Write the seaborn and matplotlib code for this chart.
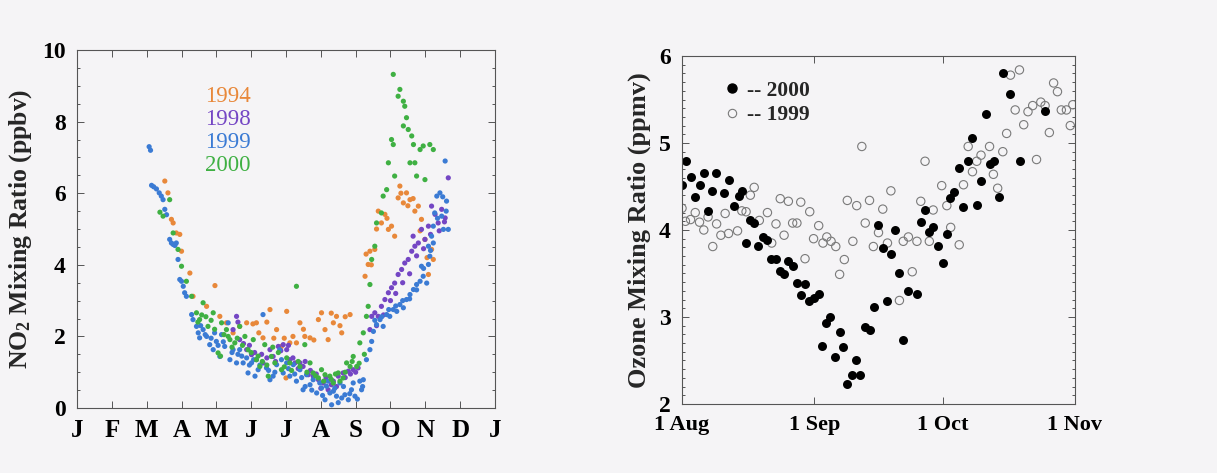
import numpy as np
import pandas as pd
import matplotlib
matplotlib.use("Agg")
import matplotlib.pyplot as plt
from matplotlib.lines import Line2D
from matplotlib.ticker import MultipleLocator
import seaborn as sns

# NO2 panel: x in months since 1 Jan, value in ppbv
no2_1994_month = [2.52, 2.61, 2.71, 2.76, 2.85, 2.95, 3.0, 3.24, 3.33, 3.72, 3.96, 4.10, 4.29, 4.48,
                  4.67, 4.87, 5.15, 5.34, 5.54, 5.73, 5.87, 6.0, 6.02, 6.11, 6.30, 6.40, 6.54, 6.69,
                  6.93, 7.02, 7.12, 7.21, 7.36, 7.45, 7.60, 7.84, 8.27, 8.36, 8.41, 8.55, 8.65, 8.74,
                  8.84, 8.94, 9.03, 9.12, 9.22, 9.27, 9.37, 9.46, 9.56, 9.70, 9.80, 9.89, 9.99, 10.09,
                  10.18, 10.23,
                  5.05, 5.22, 5.45, 5.65, 5.95, 6.20, 6.50, 6.80, 7.30, 7.55, 7.70, 8.30, 8.45, 8.60,
                  8.90, 9.30, 9.50, 9.65, 9.85, 10.05]
no2_1994_ppbv = [6.34, 6.01, 5.27, 5.17, 4.89, 4.85, 4.38, 3.77, 3.12, 2.84, 3.42, 2.56, 2.38, 2.10,
                 2.28, 2.38, 2.38, 1.96, 2.75, 2.19, 1.72, 0.84, 2.70, 1.82, 1.82, 2.38, 2.00, 1.96,
                 2.47, 2.66, 2.19, 1.91, 2.38, 2.56, 2.10, 2.61, 3.68, 4.01, 4.38, 4.43, 5.50, 5.17,
                 5.41, 4.99, 5.08, 4.80, 5.87, 6.20, 5.73, 6.01, 5.82, 5.50, 5.64, 5.27, 4.71, 3.73,
                 4.43, 4.15,
                 2.35, 2.10, 2.40, 1.95, 1.95, 2.00, 2.20, 1.90, 2.65, 2.30, 2.55, 4.30, 4.00, 5.00,
                 5.30, 6.00, 5.65, 5.85, 4.95, 4.20]

no2_1998_month = [4.48, 4.58, 4.67, 4.87, 5.01, 5.15, 5.34, 5.54, 5.63, 5.78, 5.92, 6.02, 6.11, 6.26,
                  6.40, 6.49, 6.64, 6.78, 6.93, 7.07, 7.21, 7.36, 7.50, 7.64, 7.79, 7.93, 8.07, 8.41,
                  8.46, 8.55, 8.65, 8.74, 8.84, 8.94, 9.03, 9.12, 9.22, 9.32, 9.41, 9.51, 9.61, 9.65,
                  9.70, 9.80, 9.89, 9.99, 10.09, 10.18, 10.28, 10.37, 10.47, 10.57, 10.66,
                  4.62, 4.78, 4.95, 5.10, 5.30, 5.45, 5.70, 5.85, 6.07, 6.20, 6.35, 6.55, 6.70, 6.87,
                  7.00, 7.15, 7.30, 7.45, 7.70, 7.85, 8.00, 8.60, 8.80, 9.00, 9.15, 9.35, 9.55, 9.75,
                  9.95, 10.15, 10.40, 10.55]
no2_1998_ppbv = [2.19, 2.56, 1.91, 1.63, 1.49, 1.35, 1.26, 1.63, 1.44, 1.72, 1.77, 1.63, 1.35, 1.26,
                 1.26, 1.16, 0.93, 0.89, 0.79, 0.70, 0.51, 0.75, 0.89, 0.98, 1.03, 1.07, 1.12, 2.19,
                 2.56, 2.66, 2.56, 2.84, 3.03, 3.22, 3.36, 3.49, 3.73, 3.87, 4.05, 4.15, 4.38, 4.80,
                 4.52, 4.61, 4.99, 4.71, 5.08, 5.64, 5.41, 5.17, 5.55, 5.31, 6.43,
                 2.40, 1.80, 1.75, 1.55, 1.50, 1.40, 1.30, 1.60, 1.75, 1.40, 1.10, 1.30, 1.05, 0.95,
                 0.55, 0.85, 0.65, 0.60, 0.85, 0.95, 1.00, 2.30, 2.60, 3.00, 3.20, 3.50, 3.75, 4.25,
                 4.45, 4.85, 4.95, 5.20]

no2_1999_month = [2.07, 2.11, 2.14, 2.20, 2.28, 2.36, 2.42, 2.47, 2.52, 2.57, 2.66, 2.71, 2.76, 2.81,
                  2.85, 2.90, 2.95, 3.00, 3.05, 3.09, 3.14, 3.29, 3.33, 3.43, 3.48, 3.52, 3.62, 3.72,
                  3.81, 3.91, 4.00, 4.10, 4.15, 4.24, 4.34, 4.39, 4.48, 4.58, 4.67, 4.77, 4.87, 4.91,
                  5.01, 5.11, 5.20, 5.34, 5.44, 5.54, 5.63, 5.73, 5.82, 5.92, 6.02, 6.11, 6.21, 6.30,
                  6.40, 6.49, 6.59, 6.69, 6.78, 6.88, 6.97, 7.02, 7.12, 7.16, 7.26, 7.31, 7.36, 7.45,
                  7.55, 7.60, 7.69, 7.79, 7.88, 7.98, 8.12, 8.17, 8.22, 8.31, 8.41, 8.46, 8.51, 8.60,
                  8.70, 8.79, 8.89, 8.98, 9.08, 9.18, 9.27, 9.37, 9.46, 9.56, 9.66, 9.75, 9.85, 9.89,
                  9.94, 10.04, 10.09, 10.09, 10.13, 10.18, 10.23, 10.23, 10.27, 10.33, 10.42, 10.47,
                  10.52, 10.57, 10.61, 10.66,
                  3.55, 3.68, 3.85, 3.95, 4.05, 4.20, 4.45, 4.62, 4.73, 4.95, 5.07, 5.25, 5.50, 5.68,
                  5.87, 6.07, 6.25, 6.45, 6.55, 6.74, 6.83, 7.05, 7.21, 7.40, 7.50, 7.65, 7.83, 7.93,
                  8.05, 8.20, 8.55, 8.75, 8.95, 9.15, 9.35, 9.55, 9.75, 9.95, 10.15, 10.35, 10.50,
                  10.60]
no2_1999_ppbv = [7.30, 7.20, 6.22, 6.18, 6.12, 6.01, 5.92, 5.82, 5.55, 5.40, 4.71, 4.61, 4.57, 4.54,
                 4.61, 4.15, 3.59, 3.54, 3.40, 3.22, 3.12, 2.61, 2.47, 2.28, 2.10, 1.96, 2.19, 2.00,
                 1.77, 1.63, 1.86, 1.44, 2.05, 1.72, 2.38, 1.35, 1.63, 1.26, 1.63, 1.26, 1.40, 0.98,
                 1.26, 0.89, 1.07, 2.61, 1.12, 0.79, 0.89, 1.21, 1.63, 0.98, 1.26, 0.89, 1.21, 0.75,
                 1.07, 0.51, 0.93, 0.65, 0.79, 0.42, 0.70, 0.56, 0.23, 0.61, 0.42, 0.09, 0.47, 0.33,
                 0.70, 0.28, 0.37, 0.23, 0.51, 0.33, 0.75, 0.51, 0.79, 1.35, 1.63, 1.86, 2.14, 2.33,
                 2.47, 2.28, 2.61, 2.56, 2.75, 2.70, 2.89, 2.80, 3.03, 3.17, 3.31, 3.45, 3.54, 3.96,
                 3.68, 3.49, 4.01, 4.52, 4.24, 4.80, 5.08, 4.61, 5.45, 5.92, 6.01, 5.36,
                 4.99, 6.90, 5.78, 4.99,
                 2.30, 2.05, 1.95, 2.10, 1.75, 1.85, 1.55, 1.50, 1.45, 1.20, 1.35, 1.20, 1.05, 1.00,
                 1.35, 1.10, 0.95, 0.85, 0.60, 0.50, 0.90, 0.35, 0.75, 0.55, 0.15, 0.60, 0.40, 0.70,
                 0.25, 0.60, 2.45, 2.55, 2.75, 2.85, 3.00, 3.05, 3.30, 3.90, 4.40, 5.30, 5.90,
                 5.50]

no2_2000_month = [2.38, 2.47, 2.66, 2.76, 2.90, 3.00, 3.14, 3.29, 3.43, 3.52, 3.62, 3.76, 3.91, 4.05,
                  4.15, 4.29, 4.39, 4.53, 4.67, 4.82, 4.91, 5.06, 5.15, 5.25, 5.39, 5.49, 5.58, 5.68,
                  5.87, 6.02, 6.11, 6.30, 6.40, 6.54, 6.69, 6.78, 6.93, 7.02, 7.12, 7.26, 7.36, 7.50,
                  7.64, 7.74, 7.84, 7.93, 8.03, 8.12, 8.22, 8.31, 8.36, 8.41, 8.46, 8.55, 8.60, 8.74,
                  8.79, 8.89, 8.94, 9.03, 9.08, 9.08, 9.12, 9.22, 9.27, 9.37, 9.37, 9.41, 9.46, 9.51,
                  9.56, 9.61, 9.66, 9.70, 9.75, 9.85, 9.94, 9.99, 10.13, 10.23,
                  3.47, 3.58, 3.70, 3.85, 3.95, 4.12, 4.22, 4.34, 4.45, 4.60, 4.75, 5.00, 5.20, 5.32,
                  5.45, 5.62, 5.78, 5.95, 6.16, 6.35, 6.60, 6.85, 7.08, 7.30, 7.42, 7.55, 7.70, 7.90,
                  8.10, 8.25]
no2_2000_ppbv = [5.47, 5.36, 5.82, 4.89, 4.43, 3.96, 3.54, 3.12, 2.66, 2.47, 2.94, 2.28, 2.66, 1.54,
                 2.38, 2.19, 1.91, 1.82, 2.28, 2.00, 1.63, 1.91, 1.35, 1.16, 1.77, 0.89, 1.44, 1.26,
                 1.07, 1.40, 1.26, 3.40, 1.16, 1.77, 1.26, 0.98, 0.84, 1.07, 0.93, 0.89, 0.70, 0.98,
                 0.84, 1.26, 1.16, 1.44, 1.16, 1.82, 2.10, 2.56, 2.84, 3.45, 4.15, 4.52, 5.17, 5.45,
                 5.92, 6.10, 6.85, 7.50, 7.36, 9.32, 6.48, 8.71, 8.90, 8.57, 7.88, 8.43, 8.11, 7.78,
                 6.85, 7.60, 7.36, 6.85, 6.48, 7.22, 7.32, 6.38, 7.36, 7.22,
                 2.40, 2.60, 2.55, 2.45, 2.20, 1.45, 2.05, 2.00, 1.70, 1.95, 1.75, 1.55, 1.45, 1.30,
                 1.20, 1.70, 1.55, 1.15, 1.05, 1.30, 1.00, 0.90, 0.75, 0.80, 0.95, 0.75, 1.00, 1.30,
                 1.25, 1.50]

years = ["1994", "1998", "1999", "2000"]
year_colors = ["#e8883a", "#7446c4", "#3b7bd4", "#3fb043"]
month_labels = ["J", "F", "M", "A", "M", "J", "J", "A", "S", "O", "N", "D", "J"]

# Ozone panel: x in days since 1 Aug, value in ppmv
o3_2000_day = [0.0, 1.0, 2.1, 3.1, 4.1, 5.1, 6.0, 7.0, 8.0, 9.9, 11.1, 12.1, 13.3, 14.0, 15.0, 15.9,
               16.9, 17.9, 18.9, 19.9, 20.8, 22.0, 23.0, 23.9, 24.9, 26.0, 26.9, 27.8, 28.8, 29.8,
               30.8, 32.0, 32.7, 33.8, 34.7, 35.9, 36.9, 37.8, 38.7, 39.8, 40.8, 41.7, 42.9, 43.9,
               45.0, 46.0, 47.0, 47.9, 48.9, 49.9, 50.9, 51.8, 53.0, 55.0, 55.9, 56.9, 57.9, 58.8,
               59.9, 61.0, 62.0, 62.7, 63.7, 64.9, 65.9, 67.0, 68.0, 69.0, 70.0, 71.1, 72.0, 73.1,
               74.1, 75.1, 76.9, 79.1, 85.0]
o3_2000_ppmv = [4.52, 4.79, 4.61, 4.38, 4.52, 4.66, 4.22, 4.45, 4.66, 4.42, 4.58, 4.28, 4.39, 4.45,
                3.85, 4.11, 4.08, 3.82, 3.92, 3.89, 3.67, 3.67, 3.53, 3.49, 3.64, 3.59, 3.39, 3.25,
                3.38, 3.18, 3.22, 3.26, 2.67, 2.93, 3.00, 2.54, 2.83, 2.66, 2.23, 2.33, 2.50, 2.33,
                2.88, 2.85, 3.11, 4.06, 3.79, 3.18, 3.72, 4.00, 3.50, 2.74, 3.30, 3.27, 4.09, 4.23,
                3.98, 4.03, 3.82, 3.62, 3.95, 4.37, 4.44, 4.71, 4.27, 4.79, 5.06, 4.29, 4.56, 5.33,
                4.76, 4.79, 4.38, 5.80, 5.56, 4.79, 5.37]

o3_1999_day = [0.0, 0.8, 2.0, 3.1, 4.1, 5.1, 6.1, 7.2, 8.1, 9.1, 10.1, 10.9, 13.0, 14.0, 15.0, 16.0,
               16.9, 18.1, 20.0, 21.0, 22.0, 23.0, 23.9, 24.9, 25.9, 26.9, 27.8, 28.8, 29.9, 30.8,
               32.0, 33.0, 33.9, 34.9, 36.0, 36.9, 38.0, 38.7, 40.0, 40.9, 42.1, 42.9, 43.9, 44.8,
               46.0, 47.0, 48.1, 48.9, 50.9, 51.8, 53.0, 53.9, 55.0, 55.9, 56.9, 57.9, 58.8, 60.8,
               62.0, 62.9, 64.9, 65.9, 67.0, 68.0, 69.0, 70.0, 72.0, 72.9, 73.9, 75.1, 76.0, 76.9,
               78.0, 79.0, 80.0, 81.0, 82.1, 83.0, 84.0, 85.0, 86.0, 87.0, 87.9, 88.8, 90.0, 90.9,
               91.5]
o3_1999_ppmv = [4.25, 4.10, 4.12, 4.20, 4.09, 4.00, 4.15, 3.81, 4.07, 3.94, 4.19, 3.96, 3.99, 4.22,
                4.21, 4.40, 4.49, 4.11, 4.20, 3.85, 4.07, 4.36, 3.94, 4.33, 4.08, 4.08, 4.32, 3.67,
                4.21, 3.90, 4.05, 3.85, 3.92, 3.87, 3.81, 3.49, 3.66, 4.34, 3.87, 4.28, 4.96, 4.08,
                4.34, 3.81, 3.97, 4.24, 3.85, 4.45, 3.19, 3.87, 3.92, 3.52, 3.87, 4.33, 4.79, 3.87,
                4.23, 4.51, 4.28, 4.03, 3.83, 4.52, 4.96, 4.67, 4.79, 4.86, 4.96, 4.64, 4.48, 4.90,
                5.11, 5.78, 5.38, 5.84, 5.21, 5.36, 5.43, 4.81, 5.47, 5.43, 5.12, 5.69, 5.59, 5.38,
                5.38, 5.20, 5.44]
date_ticks = [0, 31, 61, 92]
date_labels = ["1 Aug", "1 Sep", "1 Oct", "1 Nov"]

no2 = pd.concat([
    pd.DataFrame({"month": m, "ppbv": v, "year": y})
    for m, v, y in [(no2_1994_month, no2_1994_ppbv, "1994"),
                    (no2_1998_month, no2_1998_ppbv, "1998"),
                    (no2_1999_month, no2_1999_ppbv, "1999"),
                    (no2_2000_month, no2_2000_ppbv, "2000")]
], ignore_index=True)

sns.set_style("ticks")
plt.rcParams["font.family"] = ["Liberation Serif", "DejaVu Serif"]
plt.rcParams["font.weight"] = "bold"
plt.rcParams["mathtext.fontset"] = "custom"
plt.rcParams["mathtext.rm"] = "Liberation Serif:bold"
plt.rcParams["mathtext.default"] = "regular"

bg = "#f5f4f6"
fig = plt.figure(figsize=(12.17, 4.73), dpi=100, facecolor=bg)
ax1 = fig.add_axes([0.0633, 0.1374, 0.3434, 0.7568])
ax2 = fig.add_axes([0.5604, 0.1459, 0.3229, 0.7357])

# left panel
sns.scatterplot(data=no2, x="month", y="ppbv", hue="year", hue_order=years,
                palette=dict(zip(years, year_colors)), s=14, linewidth=0,
                legend=False, ax=ax1)
ax1.set_xlim(0, 12)
ax1.set_ylim(0, 10)
ax1.set_xticks(range(13))
ax1.set_xticklabels(month_labels, fontsize=18, fontweight="bold")
ax1.set_yticks(range(0, 11, 2))
ax1.yaxis.set_minor_locator(MultipleLocator(0.5))
ax1.set_xlabel("")
ax1.set_ylabel("NO$_2$ Mixing Ratio (ppbv)", fontsize=18.5, fontweight="bold", labelpad=6)
for i, (y, c) in enumerate(zip(years, year_colors)):
    ax1.text(0.36, 0.87 - i * 0.064, y, color=c, fontsize=16.5, fontweight="normal",
             ha="center", va="center", transform=ax1.transAxes)

# right panel
sns.scatterplot(x=o3_1999_day, y=o3_1999_ppmv, s=36, facecolor="none",
                edgecolor="#7a7a7a", linewidth=0.8, ax=ax2)
sns.scatterplot(x=o3_2000_day, y=o3_2000_ppmv, s=42, color="black",
                linewidth=0, ax=ax2)
ax2.set_xlim(0, 92)
ax2.set_ylim(2, 6)
ax2.set_xticks(date_ticks)
ax2.set_xticklabels(date_labels, fontsize=16, fontweight="bold")
ax2.set_yticks(range(2, 7))
ax2.yaxis.set_minor_locator(MultipleLocator(0.1))
ax2.set_ylabel("Ozone Mixing Ratio (ppmv)", fontsize=19, fontweight="bold", labelpad=6)
handles = [Line2D([], [], marker="o", linestyle="none", color="black", markersize=6.5),
           Line2D([], [], marker="o", linestyle="none", markerfacecolor="none",
                  markeredgecolor="#7a7a7a", markersize=6, markeredgewidth=0.8)]
ax2.legend(handles, ["-- 2000", "-- 1999"], loc="upper left", bbox_to_anchor=(0.05, 0.985),
           frameon=False, handletextpad=0.2, handlelength=1.0, labelspacing=0.2,
           prop={"family": "Liberation Serif", "weight": "bold", "size": 15.5})

for ax in (ax1, ax2):
    ax.set_facecolor(bg)
    for s in ax.spines.values():
        s.set_color("#555555")
        s.set_linewidth(0.8)
    ax.tick_params(which="both", direction="in", top=True, right=True, colors="#555555",
                   labelcolor="black", width=0.7)
    ax.tick_params(which="major", length=5, pad=8)
    ax.tick_params(axis="y", which="major", labelsize=17)
    ax.tick_params(which="minor", length=2.5)
    for lab in ax.get_yticklabels():
        lab.set_fontweight("bold")

fig.savefig("out.png", dpi=100, facecolor=bg)
